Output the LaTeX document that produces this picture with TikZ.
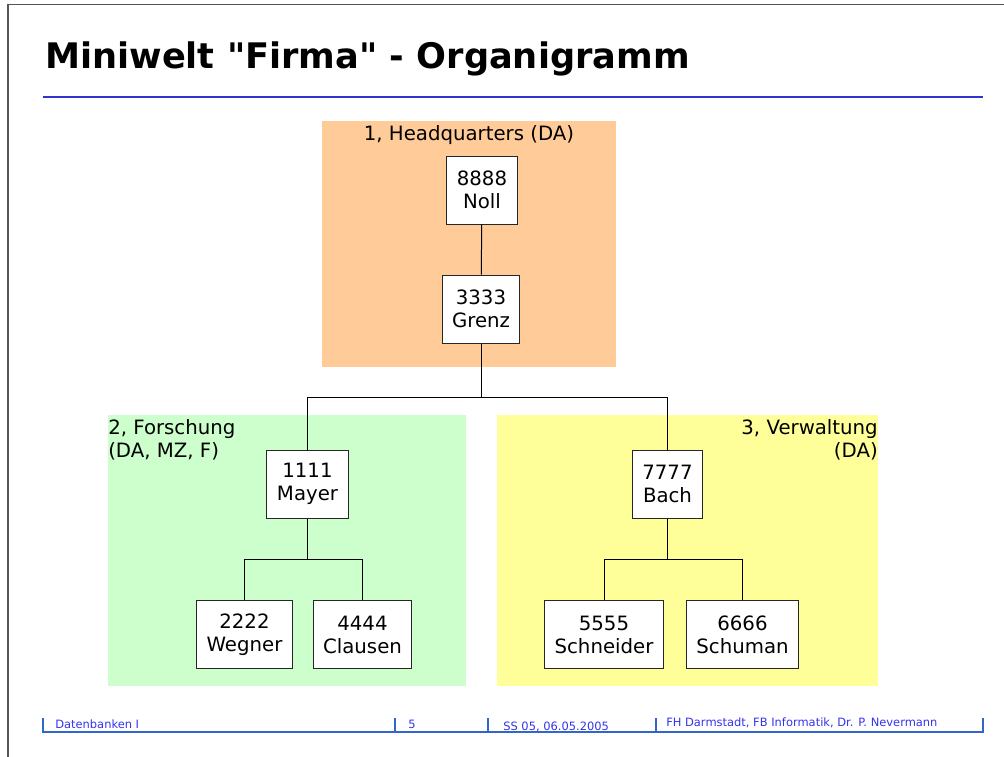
\documentclass[tikz,border=0pt]{standalone}
\usepackage{fontspec}
\setmainfont{DejaVu Sans}[Ligatures=TeXOff]
\definecolor{hqorange}{HTML}{FFCC99}
\definecolor{fogreen}{HTML}{CCFFCC}
\definecolor{vwyellow}{HTML}{FFFF99}
\definecolor{titlerule}{HTML}{3333CC}
\definecolor{foottext}{HTML}{3333EE}
\definecolor{footline}{HTML}{3366CC}
\definecolor{frame}{HTML}{555555}

\begin{document}
\begin{tikzpicture}[x=0.75pt,y=-0.75pt,
    person/.style={draw=black!85,fill=white,line width=0.75pt,align=center,
      minimum height=51pt,inner xsep=7.5pt,font=\fontsize{14.8}{17.25}\selectfont},
    grouplabel/.style={inner sep=0pt,font=\fontsize{14.8}{17.25}\selectfont},
    footnote/.style={inner sep=0pt,text=foottext,font=\fontsize{8.6}{9}\selectfont},
    conn/.style={line width=0.75pt}]
  \useasboundingbox (0,0) rectangle (1004,757);
  % slide frame and title
  \draw[frame,line width=1.1pt] (8,757) -- (8,4.5) -- (1004,4.5);
  \node[anchor=base west,inner sep=0pt,font=\fontsize{26.4}{30}\selectfont\bfseries]
    (title) at (45,68) {Miniwelt "Firma" - Organigramm};
  \draw[titlerule,line width=1.2pt] (43,97) -- (983,97);
  % departments
  \fill[hqorange] (322,121) rectangle (616,367);
  \fill[fogreen] (108,415) rectangle (466,686);
  \fill[vwyellow] (497,415) rectangle (878,686);
  \node[grouplabel] (hqlabel) at (469,135) {1, Headquarters (DA)};
  \node[grouplabel,anchor=north west,align=left] (folabel) at (108,419)
    {2, Forschung\\(DA, MZ, F)};
  \node[grouplabel,anchor=north east,align=right] (vwlabel) at (878,419)
    {3, Verwaltung\\(DA)};
  % employees
  \foreach \n/\p/\t in {noll/{(482,190)}/{8888\\Noll},grenz/{(481,309)}/{3333\\Grenz},
      mayer/{(307.5,484)}/{1111\\Mayer},wegner/{(244.5,634.5)}/{2222\\Wegner},
      clausen/{(362.5,634.5)}/{4444\\Clausen},bach/{(667.5,484)}/{7777\\Bach},
      schneider/{(604,634.5)}/{5555\\Schneider},schuman/{(742.5,634.5)}/{6666\\Schuman}}
    \node[person] (\n) at \p {\t};
  \coordinate (hqfork) at (481,397);
  \coordinate (fofork) at (307.5,559);
  \coordinate (vwfork) at (667.5,559);
  \draw[conn] (noll) -- (grenz);
  \draw[conn] (grenz) -- (hqfork);
  \draw[conn] (hqfork) -| (mayer);
  \draw[conn] (hqfork) -| (bach);
  \draw[conn] (mayer) -- (fofork);
  \draw[conn] (fofork) -| (wegner);
  \draw[conn] (fofork) -| (clausen);
  \draw[conn] (bach) -- (vwfork);
  \draw[conn] (vwfork) -| (schneider);
  \draw[conn] (vwfork) -| (schuman);
  % footer
  \draw[footline,line width=0.9pt] (43,718) -- (43,732) -- (983,732) -- (983,718);
  \foreach \x in {395,488,656}
    \draw[footline,line width=0.9pt] (\x,718) -- (\x,732);
  \node[footnote,anchor=base west] (course) at (55,728) {Datenbanken I};
  \node[footnote,anchor=base west] (page) at (408,728) {5};
  \node[footnote,anchor=base west] (date) at (503,730) {SS 05, 06.05.2005};
  \node[footnote,anchor=base west] (author) at (666,726)
    {FH Darmstadt, FB Informatik, Dr. P. Nevermann};
\end{tikzpicture}
\end{document}
